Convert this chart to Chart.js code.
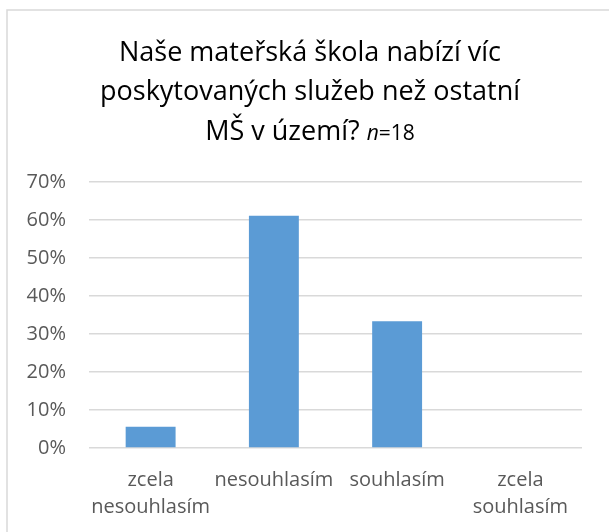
<!DOCTYPE html>
<html>
<head>
<meta charset="utf-8">
<script src="https://cdn.jsdelivr.net/npm/chart.js@4"></script>
<style>
  html, body { margin: 0; padding: 0; background: #fff; }
  #wrap { width: 609px; height: 532px; }
</style>
</head>
<body>
<div id="wrap"><canvas id="myChart" width="609" height="532"></canvas></div>
<script>
const categories = [['zcela', 'nesouhlasím'], 'nesouhlasím', 'souhlasím', ['zcela', 'souhlasím']]
// share of 18 answers, in percent
const shares = [5.56, 61.11, 33.33, 0]
const titleLines = ['Naše mateřská škola nabízí víc', 'poskytovaných služeb než ostatní', 'MŠ v území? ']
const titleNote = ['n', '=18']

const canvas = document.getElementById('myChart')
Chart.defaults.font.family = "'Open Sans', sans-serif"

// frame of the chart box and the title with the italic n
const framePlugin = {
    id: 'frame',
    beforeDraw(chart) {
        const ctx = chart.ctx
        ctx.save()
        ctx.strokeStyle = '#d9d9d9'
        ctx.lineWidth = 1.5
        ctx.beginPath()
        ctx.moveTo(7, 532)
        ctx.lineTo(7, 10)
        ctx.lineTo(609, 10)
        ctx.stroke()
        ctx.restore()
    },
    afterDraw(chart) {
        const ctx = chart.ctx
        const cx = 310
        ctx.save()
        ctx.fillStyle = '#000'
        ctx.textBaseline = 'alphabetic'
        ctx.textAlign = 'center'
        const big = "27px 'Open Sans'"
        const small = "21px 'Open Sans'"
        const smallIt = "italic 21px 'Open Sans'"
        ctx.font = big
        ctx.fillText(titleLines[0], cx, 61)
        ctx.fillText(titleLines[1], cx, 100)
        // last line mixes sizes, so measure the pieces
        const w1 = ctx.measureText(titleLines[2]).width
        ctx.font = smallIt
        const w2 = ctx.measureText(titleNote[0]).width
        ctx.font = small
        const w3 = ctx.measureText(titleNote[1]).width
        let x = cx - (w1 + w2 + w3) / 2
        ctx.textAlign = 'left'
        ctx.font = big
        ctx.fillText(titleLines[2], x, 140)
        x += w1
        ctx.font = smallIt
        ctx.fillText(titleNote[0], x, 140)
        x += w2
        ctx.font = small
        ctx.fillText(titleNote[1], x, 140)
        ctx.restore()
    }
}

const config = {
    type: 'bar',
    data: {
        labels: categories,
        datasets: [{
            data: shares,
            backgroundColor: '#5b9bd5',
            barPercentage: 0.405,
            categoryPercentage: 1
        }]
    },
    options: {
        responsive: false,
        animation: false,
        layout: {
            padding: {top: 182, right: 27, left: 0, bottom: 0}
        },
        plugins: {
            legend: {display: false},
            tooltip: {enabled: false}
        },
        scales: {
            x: {
                grid: {display: false},
                border: {display: false},
                ticks: {
                    color: '#595959',
                    font: {size: 20, lineHeight: 1.35},
                    padding: 11,
                    maxRotation: 0,
                    autoSkip: false
                },
                afterFit(scale) { scale.height = 84 }
            },
            y: {
                min: 0,
                max: 70,
                grid: {color: '#d9d9d9', lineWidth: 1.5, drawTicks: false},
                border: {display: false},
                ticks: {
                    stepSize: 10,
                    color: '#595959',
                    font: {size: 20},
                    padding: 23,
                    callback: v => v + '%'
                },
                afterFit(scale) { scale.width = 89 }
            }
        }
    },
    plugins: [framePlugin]
}

let myChart = new Chart(canvas, config)
</script>
</body>
</html>
